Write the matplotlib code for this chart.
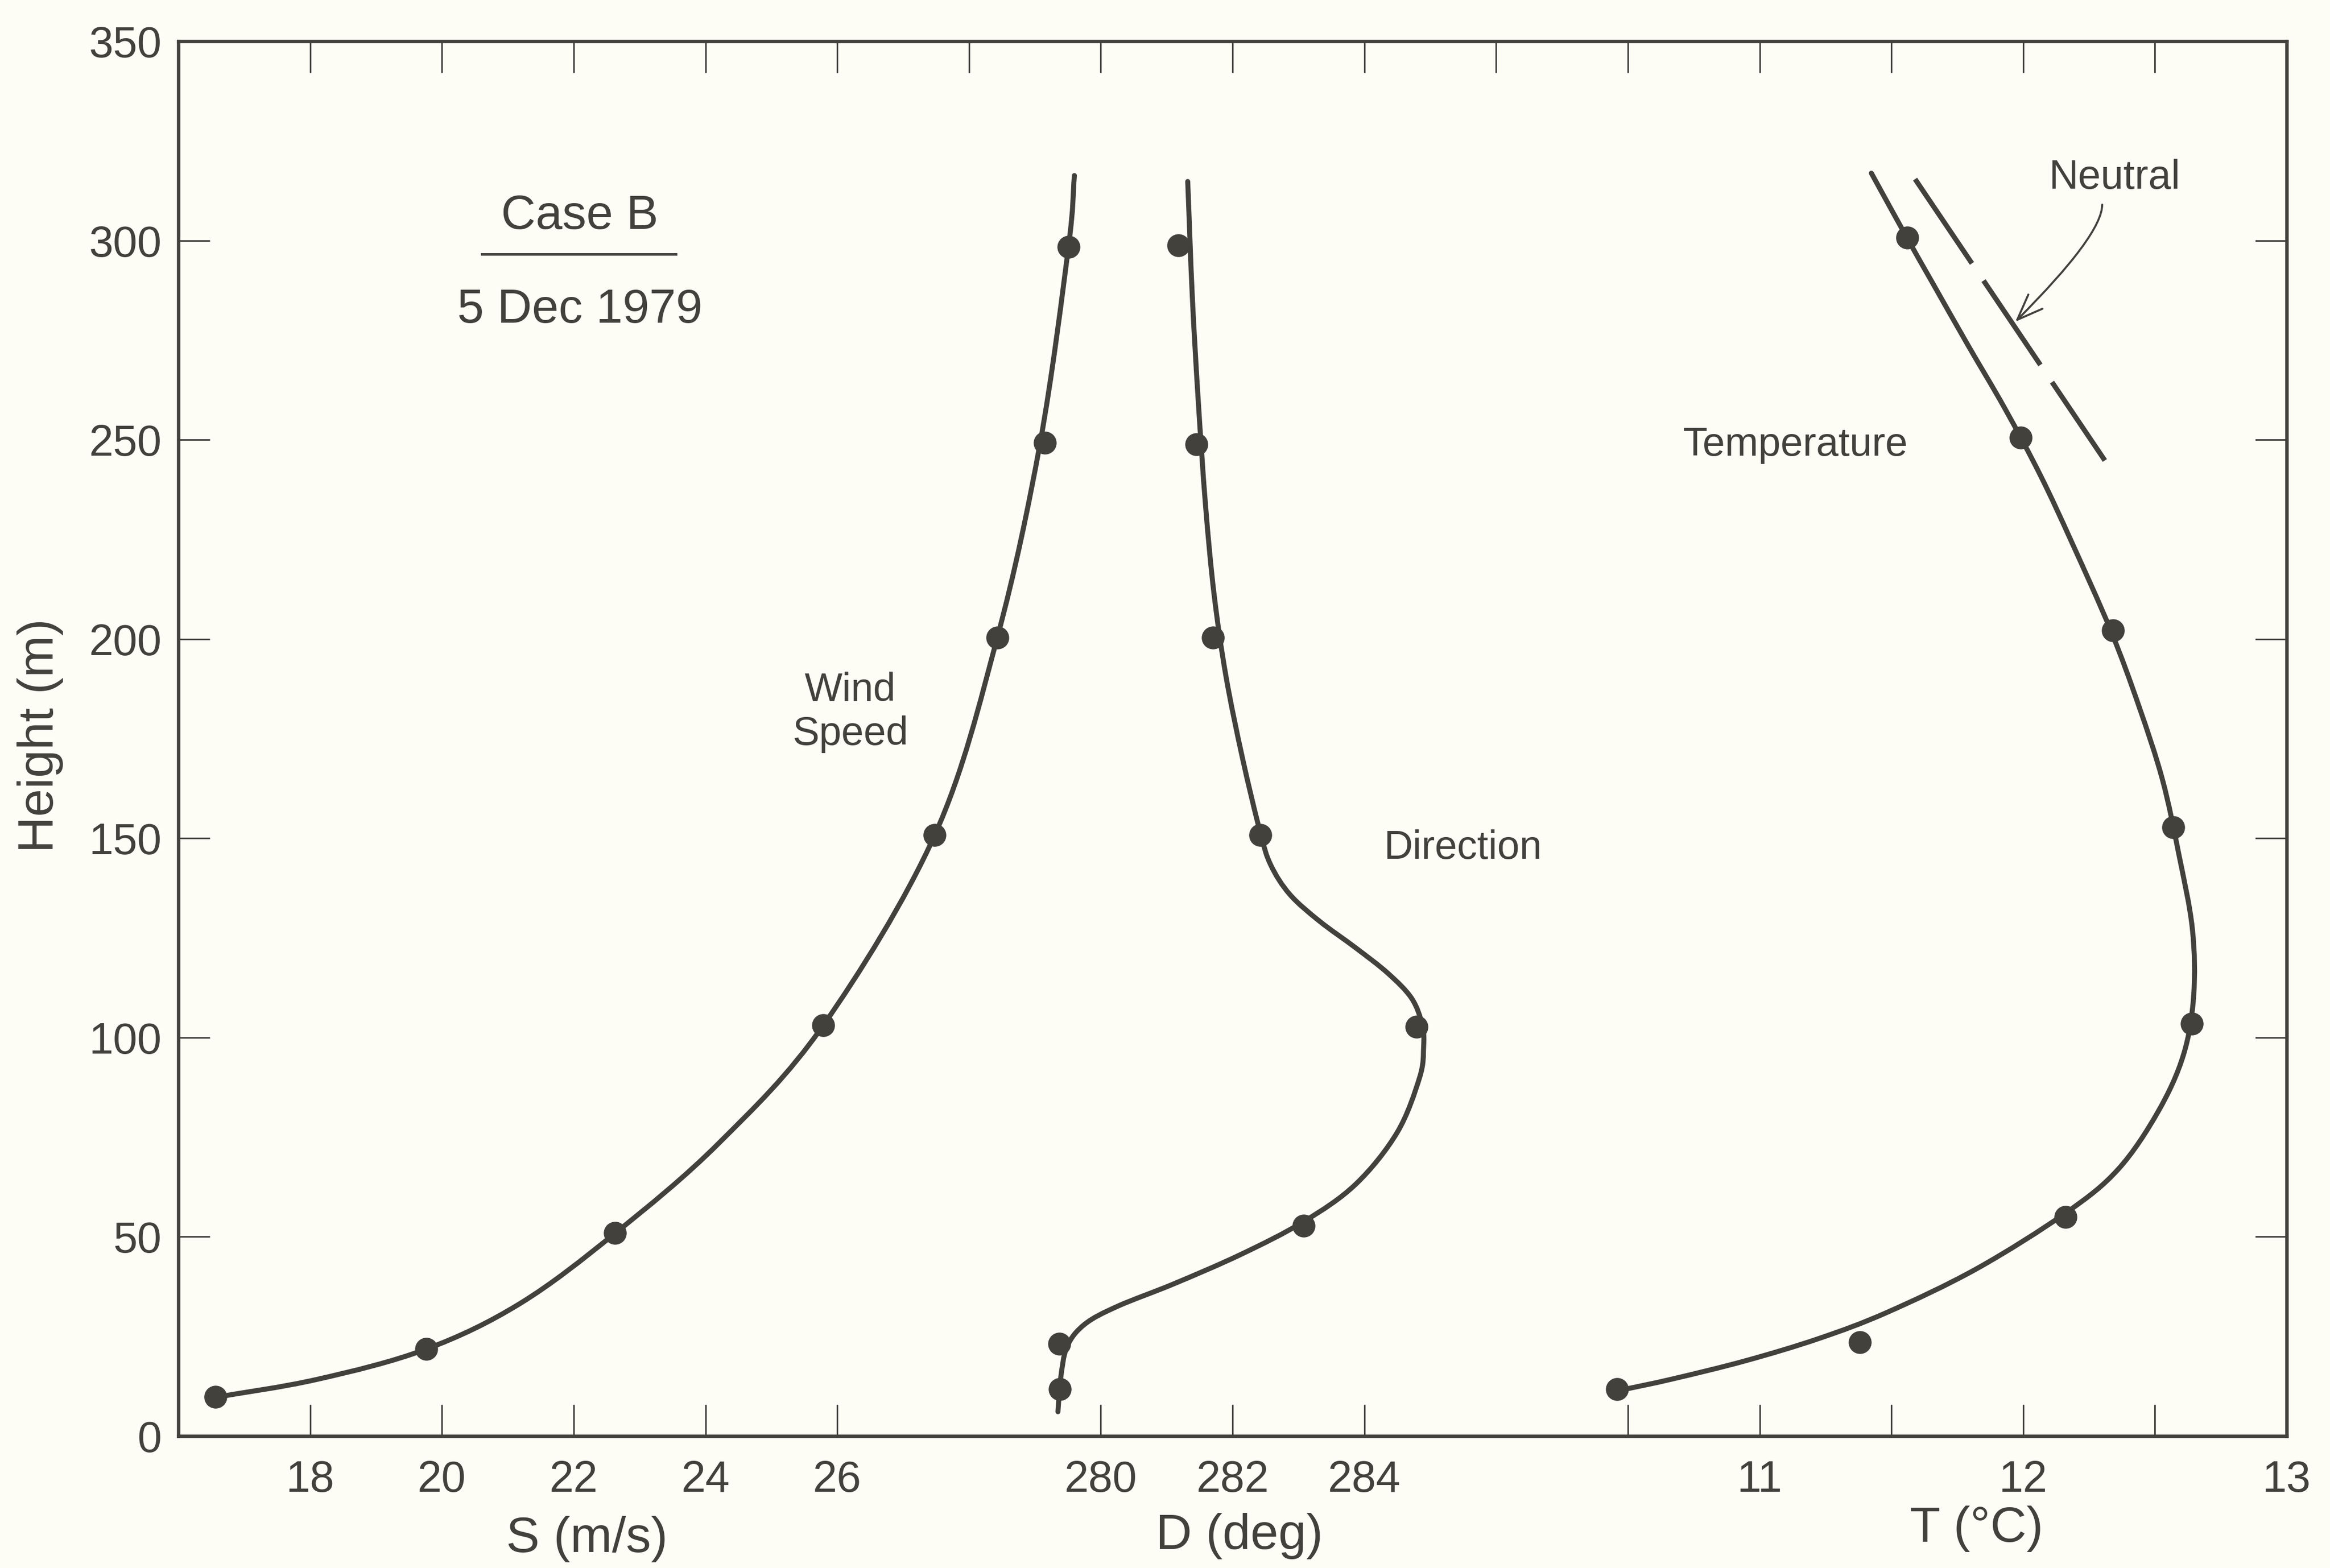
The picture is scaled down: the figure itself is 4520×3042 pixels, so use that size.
import numpy as np
import matplotlib
matplotlib.use("Agg")
import matplotlib.pyplot as plt
from matplotlib.path import Path
from matplotlib.patches import PathPatch

plt.rcParams["font.family"] = ["Liberation Sans", "DejaVu Sans"]
plt.rcParams["lines.scale_dashes"] = False

INK = "#42413c"
PAPER = "#fdfdf6"

# ---- observed profiles (height in m) ----
speed_height = [9.8, 21.8, 50.9, 103.1, 150.8, 200.4, 249.2, 298.4]
speed_value = [16.56, 19.76, 22.63, 25.79, 27.48, 28.43, 29.15, 29.51]

dir_height = [11.8, 23.2, 52.8, 102.7, 150.8, 200.4, 248.9, 298.8]
dir_value = [279.38, 279.37, 283.08, 284.79, 282.42, 281.70, 281.45, 281.18]

temp_height = [11.8, 23.6, 55.0, 103.5, 152.7, 202.2, 250.6, 300.7]
temp_value = [10.46, 11.38, 12.16, 12.64, 12.57, 12.34, 11.99, 11.56]

# ---- hand-fitted curves through the profiles ----
speed_curve_h = [9.4, 14.2, 21.8, 33.3, 50.9, 73.6, 103.1, 150.8, 200.4,
                 249.2, 298.4, 316.3]
speed_curve_v = [16.45, 18.10, 19.76, 21.19, 22.63, 24.21, 25.79, 27.48, 28.43,
                 29.08, 29.51, 29.60]

dir_curve_h = [6.1, 14.3, 22.5, 28.1, 32.6, 38.2, 45.6, 53.8, 63.2, 76.2, 90.0,
               97.5, 103.1, 109.8, 116.1, 122.5, 129.2, 135.9, 143.3, 151.5,
               170.2, 190.7, 211.2, 233.6, 259.7, 285.8, 314.8]
dir_curve_v = [279.35, 279.39, 279.49, 279.76, 280.26, 281.11, 282.13, 283.08,
               283.87, 284.50, 284.84, 284.90, 284.88, 284.72, 284.36, 283.87,
               283.32, 282.87, 282.58, 282.42, 282.15, 281.90, 281.72, 281.59,
               281.48, 281.39, 281.32]

temp_curve_h = [11.4, 14.3, 18.9, 24.5, 31.1, 42.0, 56.0, 66.9, 81.4, 95.6,
                110.5, 127.3, 145.9, 164.6, 183.2, 202.2, 224.2, 241.0, 257.8,
                273.8, 289.5, 300.7, 316.9]
temp_curve_v = [10.465, 10.668, 10.947, 11.226, 11.486, 11.824, 12.162, 12.360,
                12.512, 12.608, 12.647, 12.642, 12.591, 12.529, 12.439, 12.332,
                12.185, 12.066, 11.931, 11.790, 11.655, 11.559, 11.424]

# neutral (adiabatic) reference line
neutral_t = [11.59, 12.31]
neutral_h = [315.4, 244.8]

# ---- axis scales ----
height_ticks = [0, 50, 100, 150, 200, 250, 300, 350]
speed_lim = (16, 48)
speed_ticks = [18, 20, 22, 24, 26]
dir_lim = (266, 298)
dir_ticks = [280, 282, 284]
temp_lim = (5, 13)
temp_ticks = [10.5, 11, 11.5, 12, 12.5, 13]
temp_ticklabels = ["", "11", "", "12", "", "13"]
frame_ticks = list(range(18, 47, 2))


def smooth_path(xs, ys):
    """Catmull-Rom curve through the knots, as cubic Bezier segments."""
    pts = np.column_stack([xs, ys]).astype(float)
    ext = np.vstack([2 * pts[0] - pts[1], pts, 2 * pts[-1] - pts[-2]])
    verts = [pts[0]]
    codes = [Path.MOVETO]
    for i in range(1, len(ext) - 2):
        p0, p1, p2, p3 = ext[i - 1], ext[i], ext[i + 1], ext[i + 2]
        verts += [p1 + (p2 - p0) / 6.0, p2 - (p3 - p1) / 6.0, p2]
        codes += [Path.CURVE4] * 3
    return Path(verts, codes)


W_PX, H_PX = 4520, 3042
fig = plt.figure(figsize=(W_PX / 100, H_PX / 100), dpi=100, facecolor=PAPER)
left, right, top, bottom = 346, 4436, 80, 2786
ax = fig.add_axes([left / W_PX, 1 - bottom / H_PX,
                   (right - left) / W_PX, (bottom - top) / H_PX])
ax.set_facecolor("none")

TICK = dict(direction="in", length=44, width=2.2, color=INK, labelcolor=INK)

ax.set_xlim(*speed_lim)
ax.set_ylim(0, 350)
ax.set_xticks(speed_ticks)
ax.set_xticklabels([str(v) for v in speed_ticks])
ax.set_yticks(height_ticks)
ax.set_yticklabels([str(v) for v in height_ticks])
ax.tick_params(axis="x", labelsize=61, pad=33, **TICK)
ax.tick_params(axis="y", labelsize=61, pad=23, right=True, **TICK)
for s in ax.spines.values():
    s.set_linewidth(4.8)
    s.set_color(INK)

# top frame ticks
ax_top = ax.twiny()
ax_top.set_xlim(*speed_lim)
ax_top.set_xticks(frame_ticks)
ax_top.set_xticklabels([])
ax_top.tick_params(axis="x", **TICK)
for s in ax_top.spines.values():
    s.set_visible(False)

# direction scale
ax_d = ax.twiny()
ax_d.xaxis.tick_bottom()
ax_d.set_xlim(*dir_lim)
ax_d.set_xticks(dir_ticks)
ax_d.set_xticklabels([str(v) for v in dir_ticks])
ax_d.tick_params(axis="x", labelsize=61, pad=33, **TICK)
for s in ax_d.spines.values():
    s.set_visible(False)

# temperature scale
ax_t = ax.twiny()
ax_t.xaxis.tick_bottom()
ax_t.set_xlim(*temp_lim)
ax_t.set_xticks(temp_ticks)
ax_t.set_xticklabels(temp_ticklabels)
ax_t.tick_params(axis="x", labelsize=61, pad=33, **TICK)
for s in ax_t.spines.values():
    s.set_visible(False)

LW = 7.0
MS = 31

for a, cv, ch, pv, ph in [
    (ax, speed_curve_v, speed_curve_h, speed_value, speed_height),
    (ax_d, dir_curve_v, dir_curve_h, dir_value, dir_height),
    (ax_t, temp_curve_v, temp_curve_h, temp_value, temp_height),
]:
    a.add_patch(PathPatch(smooth_path(cv, ch), transform=a.transData,
                          fill=False, lw=LW, edgecolor=INK,
                          capstyle="round", joinstyle="round", zorder=3))
    a.plot(pv, ph, "o", ms=MS, color=INK, mec=INK, zorder=4)

ax_t.plot(neutral_t, neutral_h, color=INK, lw=LW, dashes=(142, 29),
          dash_capstyle="butt", zorder=3)

# labels inside the frame
ax.text(22.09, 302.9, "Case B", fontsize=67, color=INK, ha="center", va="baseline")
ax.plot([20.61, 23.55], [296.6, 296.6], color=INK, lw=3.6)
ax.text(22.09, 279.4, "5 Dec 1979", fontsize=67, color=INK, ha="center", va="baseline")
ax.text(26.20, 184.4, "Wind", fontsize=56, color=INK, ha="center", va="baseline")
ax.text(26.20, 173.4, "Speed", fontsize=56, color=INK, ha="center", va="baseline")
ax_d.text(285.5, 144.9, "Direction", fontsize=56, color=INK, ha="center", va="baseline")
ax_t.text(11.135, 246.0, "Temperature", fontsize=56, color=INK, ha="center", va="baseline")
ax_t.text(12.347, 313.0, "Neutral", fontsize=57, color=INK, ha="center", va="baseline")
ax_t.annotate("", xy=(11.97, 279.6), xytext=(12.30, 309.0),
              arrowprops=dict(arrowstyle="->,head_length=0.9,head_width=0.35",
                              connectionstyle="angle3,angleA=90,angleB=45",
                              lw=2.8, color=INK, shrinkA=0, shrinkB=0,
                              mutation_scale=40))

# axis titles
fig.text(1139 / W_PX, 1 - 2986 / H_PX, "S (m/s)", fontsize=70, color=INK, ha="center", va="center")
fig.text(2404 / W_PX, 1 - 2980 / H_PX, "D (deg)", fontsize=70, color=INK, ha="center", va="center")
fig.text(3834 / W_PX, 1 - 2966 / H_PX, "T (°C)", fontsize=70, color=INK, ha="center", va="center")
fig.text(78 / W_PX, 1 - 1427 / H_PX, "Height (m)", fontsize=70, color=INK,
         ha="center", va="center", rotation=90)

fig.savefig("out.png", dpi=100, facecolor=PAPER)
